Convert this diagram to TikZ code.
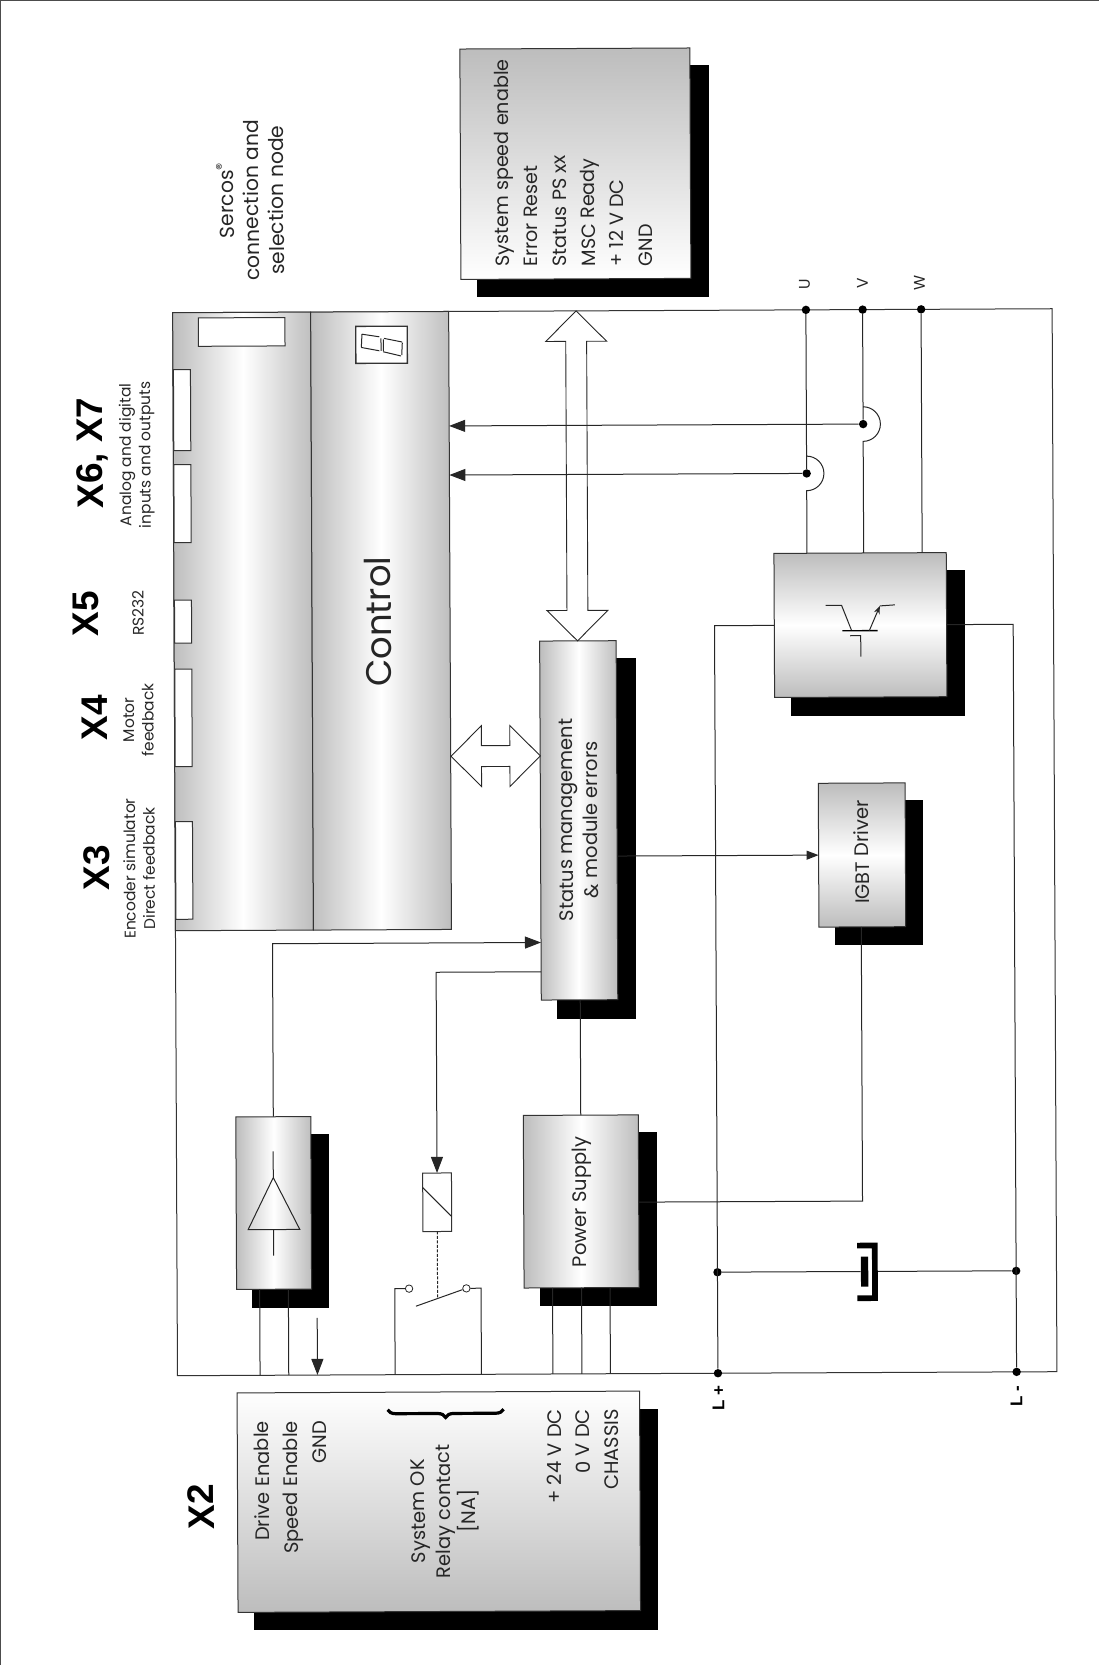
\documentclass[tikz,border=0pt]{standalone}
\usepackage{fontspec}
\setmainfont{Poppins}
\newfontfamily\labelfont{Liberation Sans}
\usetikzlibrary{arrows.meta,shapes.arrows,decorations.pathreplacing}
\tikzset{
	wire/.style={line width=1pt,black!85},
	tip/.style={wire,-{Triangle[length=16pt,width=12pt]}},
	smalltip/.style={wire,-{Triangle[length=12pt,width=9pt]}},
	shadowbox/.style={fill=black,draw=none},
	box/.style={draw=black!80,line width=1pt,inner sep=0pt,outer sep=0pt},
	hbox/.style={box,left color=black!26,right color=black!26,middle color=white},
	vbox/.style={box,top color=black!26,bottom color=black!26,middle color=white},
	slot/.style={box,fill=white},
	dot/.style={circle,fill=black,inner sep=0pt,minimum size=8.4pt},
	contact/.style={circle,draw=black!85,fill=white,line width=0.8pt,inner sep=0pt,minimum size=7.4pt},
	busarrow/.style={double arrow,draw=black!85,fill=white,line width=0.9pt,inner sep=10pt,outer sep=0pt,
		double arrow head extend=20pt,double arrow tip angle=90,double arrow head indent=0pt,
		shape border rotate=90},
	txt/.style={rotate=90,inner sep=0pt,align=center,text=black!85,font=\fontsize{19.5}{25}\selectfont},
	small/.style={txt,font=\fontsize{15.5}{19.5}\selectfont},
	bold/.style={rotate=90,inner sep=0pt,font=\labelfont\bfseries\fontsize{37}{40}\selectfont},
}
\begin{document}
\begin{tikzpicture}[x=1pt,y=-1pt]
	\useasboundingbox (0,0) rectangle (1099,1665);
	\draw[line width=1pt,black!70] (0.5,1665) -- (0.5,0.5) -- (1099,0.5);
	\fill[shadowbox] (477,65) rectangle (709,296.7);
	\fill[shadowbox] (557,658) rectangle (636,1018.7);
	\fill[shadowbox] (791,570) rectangle (965,715.7);
	\fill[shadowbox] (835,800) rectangle (922.7,944.7);
	\fill[shadowbox] (252,1134) rectangle (329,1307.5);
	\fill[shadowbox] (540,1132) rectangle (657,1306);
	\fill[shadowbox] (254,1409) rectangle (658,1629.6);
	\begin{scope}[rotate around={0.26:(550,830)},transform shape]
		\node[box,minimum width=879.5pt,minimum height=1063pt] (frame) at (614.75,842.5) {};
		\node[hbox,minimum width=138pt,minimum height=618pt] (left) at (244,620) {};
		\node[hbox,minimum width=138pt,minimum height=618pt] (ctl) at (382,620) {};
		\node[txt,font=\fontsize{35.5}{38}\selectfont] (ctltext) at (379,621) {Control};
		\node[vbox,top color=black!26,bottom color=white,minimum width=230pt,minimum height=230.4pt] (sys) at (578.4,163.8) {};
		\node[hbox,minimum width=76.5pt,minimum height=359pt] (status) at (578.75,820.5) {};
		\node[vbox,minimum width=172.3pt,minimum height=144.1pt] (trans) at (861.35,626.45) {};
		\node[vbox,minimum width=86.8pt,minimum height=143.8pt] (drv) at (861.9,856.4) {};
		\node[hbox,minimum width=75pt,minimum height=172.5pt] (buffer) at (272,1201.75) {};
		\node[hbox,minimum width=115pt,minimum height=172.6pt] (pwr) at (579.5,1201.6) {};
		\node[vbox,top color=white,bottom color=black!26,minimum width=402.5pt,minimum height=219.5pt] (xtwo) at (435.75,1501.25) {};
		\node[slot,minimum width=28.8pt,minimum height=58.5pt] (relay) at (435.5,1201.75) {};
		\node[slot,minimum width=86.6pt,minimum height=28.4pt] (net) at (243.9,330.5) {};
		\node[slot,minimum width=17pt,minimum height=81pt] (xsevena) at (184,408.5) {};
		\node[slot,minimum width=17pt,minimum height=78pt] (xsix) at (184,502) {};
		\node[slot,minimum width=17pt,minimum height=43pt] (xfive) at (184,620) {};
		\node[slot,minimum width=17pt,minimum height=97.5pt] (xfour) at (184,716.25) {};
		\node[slot,minimum width=17pt,minimum height=97.6pt] (xthree) at (184,868.8) {};
		\node[slot,line width=1.3pt,minimum width=51.5pt,minimum height=37pt] (disp) at (383.75,344) {};
		\draw[wire] (364,333.3) -- (381.5,336) (363.5,346.6) -- (381.5,350) (364.2,333.3) -- (363.5,346.6) (383.2,337.6) -- (383.2,350);
		\draw[wire] (386.2,337.6) -- (404.2,341.3) (385.5,351) -- (403.2,355.3) (385.5,338.6) -- (385.5,350.3) (404.5,342) -- (403.9,354.3);
		\node[busarrow,minimum height=330pt] (bus) at (578.4,476) {};
		\node[busarrow,minimum height=89.3pt,shape border rotate=0] (link) at (496,755.8) {};
		\node[dot] (u) at (808.3,311) {};
		\node[dot] (v) at (865,311) {};
		\node[dot] (w) at (923.5,311) {};
		\node[dot] (utap) at (808.3,474.6) {};
		\node[dot] (vtap) at (865,425.5) {};
		\node[dot] (lpmid) at (715.5,1273) {};
		\node[dot] (lmmid) at (1014.2,1273) {};
		\node[dot] (lp) at (715.5,1374) {};
		\node[dot] (lm) at (1014.2,1374) {};
		\node[contact] (ca) at (407,1288) {};
		\node[contact] (cb) at (464.3,1288) {};
		\coordinate (blade) at (413.8,1305.7);
		\coordinate (bladem) at (435.5,1298);
		\coordinate (rla) at (392.7,1374);
		\coordinate (rlb) at (479,1374);
		\coordinate (enable) at (315,1317);
		\node[fill=black,inner sep=0pt,minimum width=7.3pt,minimum height=30pt] (capa) at (862.6,1273) {};
		\coordinate (capb) at (872.9,1273);
		\draw[wire] (u) -- ([yshift=17.3pt]utap) arc[start angle=90,end angle=-90,radius=17.3pt] -- (u |- trans.north);
		\draw[wire] (v) -- ([yshift=17.3pt]vtap) arc[start angle=90,end angle=-90,radius=17.3pt] -- (v |- trans.north);
		\draw[wire] (w) -- (w |- trans.north);
		\draw[tip] (utap) -- (utap -| ctl.east);
		\draw[tip] (vtap) -- (vtap -| ctl.east);
		\draw[wire] (trans.west) -| (lp);
		\draw[wire] (trans.east) -| (lm);
		\draw[wire] (lpmid) -- (capa);
		\draw[wire] (capb) -- (lmmid);
		\draw[line width=5.7pt,miter limit=10] (855.3,1247) -- (872.9,1247) -- (872.9,1299.6) -- (855.3,1299.6);
		\draw[smalltip] (drv.west -| status.east) -- (drv.west);
		\draw[wire] ([xshift=-1pt]drv.south) |- ([yshift=-1pt]pwr.east);
		\draw[wire] (pwr.north) -- (pwr.north |- status.south);
		\draw[tip] (buffer.north) |- ([yshift=-122pt]status.west);
		\draw[tip] ([yshift=-151.3pt]status.west) -| (relay.north);
		\draw[wire] ([xshift=-14.4pt]buffer.south) -- ([xshift=-14.4pt]buffer.south |- frame.south);
		\draw[wire] ([xshift=14.3pt]buffer.south) -- ([xshift=14.3pt]buffer.south |- frame.south);
		\draw[tip] (enable) -- (enable |- frame.south);
		\draw[wire] ([xshift=-29pt]pwr.south) -- ([xshift=-29pt]pwr.south |- frame.south);
		\draw[wire] (pwr.south) -- (pwr.south |- frame.south);
		\draw[wire] ([xshift=28.5pt]pwr.south) -- ([xshift=28.5pt]pwr.south |- frame.south);
		\draw[wire] (ca.west) -| (rla);
		\draw[wire] (cb.east) -| (rlb);
		\draw[wire] (blade) -- (cb);
		\draw[wire,dash pattern=on 3pt off 1.5pt] (relay.south) -- (bladem);
		\draw[wire] (421.1,1187) -- (449.9,1216);
		\draw[wire] (271.7,1150) -- (271.7,1176.3) -- (246.3,1228.3) -- (298,1228.3) -- (271.7,1176.3);
		\draw[wire] (271.7,1228.3) -- (271.7,1254.4);
		\draw[wire] (826.6,606.7) -- (842.6,606.7) -- (852.6,632.1);
		\draw[line width=1.4pt] (843.2,632.1) -- (878.6,632.1);
		\draw[wire,-{Stealth[length=8pt,width=6pt]}] (870.2,632.1) -- (880.9,607.4);
		\draw[wire] (880.9,607.4) -- (895.9,606.4);
		\draw[wire] (850.9,637.1) -- (861.6,637.1) -- (861.6,658.1);
		\draw[line width=3.2pt,decorate,decoration={brace,amplitude=8pt}] (501,1409) -- (385,1409);
		\node[txt,font=\fontsize{19.2}{28.7}\selectfont,align=left,anchor=west] (systext) at (576.3,266.8) {System speed enable\\Error Reset\\Status PS xx\\MSC Ready\\+ 12 V DC\\GND};
		\node[txt,font=\fontsize{20.3}{25}\selectfont] (sercos) at (253,199) {Sercos\textsuperscript{\textregistered}\\connection and\\selection node};
		\node[txt] (statustext) at (578.5,820) {Status management\\\& module errors};
		\node[txt] (drvtext) at (861.5,853.5) {IGBT Driver};
		\node[txt] (pwrtext) at (580,1202) {Power Supply};
		\node[txt,font=\fontsize{19.5}{28.7}\selectfont,align=right,anchor=east] (enabletext) at (287.5,1419.6) {Drive Enable\\Speed Enable\\GND};
		\node[txt,font=\fontsize{19.5}{25.2}\selectfont] (oktext) at (442,1510.7) {System OK\\Relay contact\\{[NA]}};
		\node[txt,font=\fontsize{19.5}{28.5}\selectfont,align=right,anchor=east] (dctext) at (580,1409) {+ 24 V DC\\0 V DC\\CHASSIS};
		\node[bold] (xtwolabel) at (198,1505) {X2};
		\node[bold] (xthreelabel) at (96.4,866) {X3};
		\node[bold] (xfourlabel) at (95.3,716) {X4};
		\node[bold] (xfivelabel) at (87,611.7) {X5};
		\node[bold] (xsixlabel) at (94.5,451) {X6, X7};
		\node[small] (xthreetext) at (139,866.7) {Encoder simulator\\Direct feedback};
		\node[small] (xfourtext) at (139,718) {Motor\\feedback};
		\node[small] (xfivetext) at (139,611) {RS232};
		\node[small] (xsixtext) at (138.5,453) {Analog and digital\\inputs and outputs};
		\node[small] (ulabel) at (807,285) {U};
		\node[small] (vlabel) at (865,285) {V};
		\node[small] (wlabel) at (922,285) {W};
		\node[bold,font=\labelfont\bfseries\fontsize{17}{20}\selectfont] (lplabel) at (716,1399) {L +};
		\node[bold,font=\labelfont\bfseries\fontsize{17}{20}\selectfont] (lmlabel) at (1014,1398) {L -};
	\end{scope}
\end{tikzpicture}
\end{document}
